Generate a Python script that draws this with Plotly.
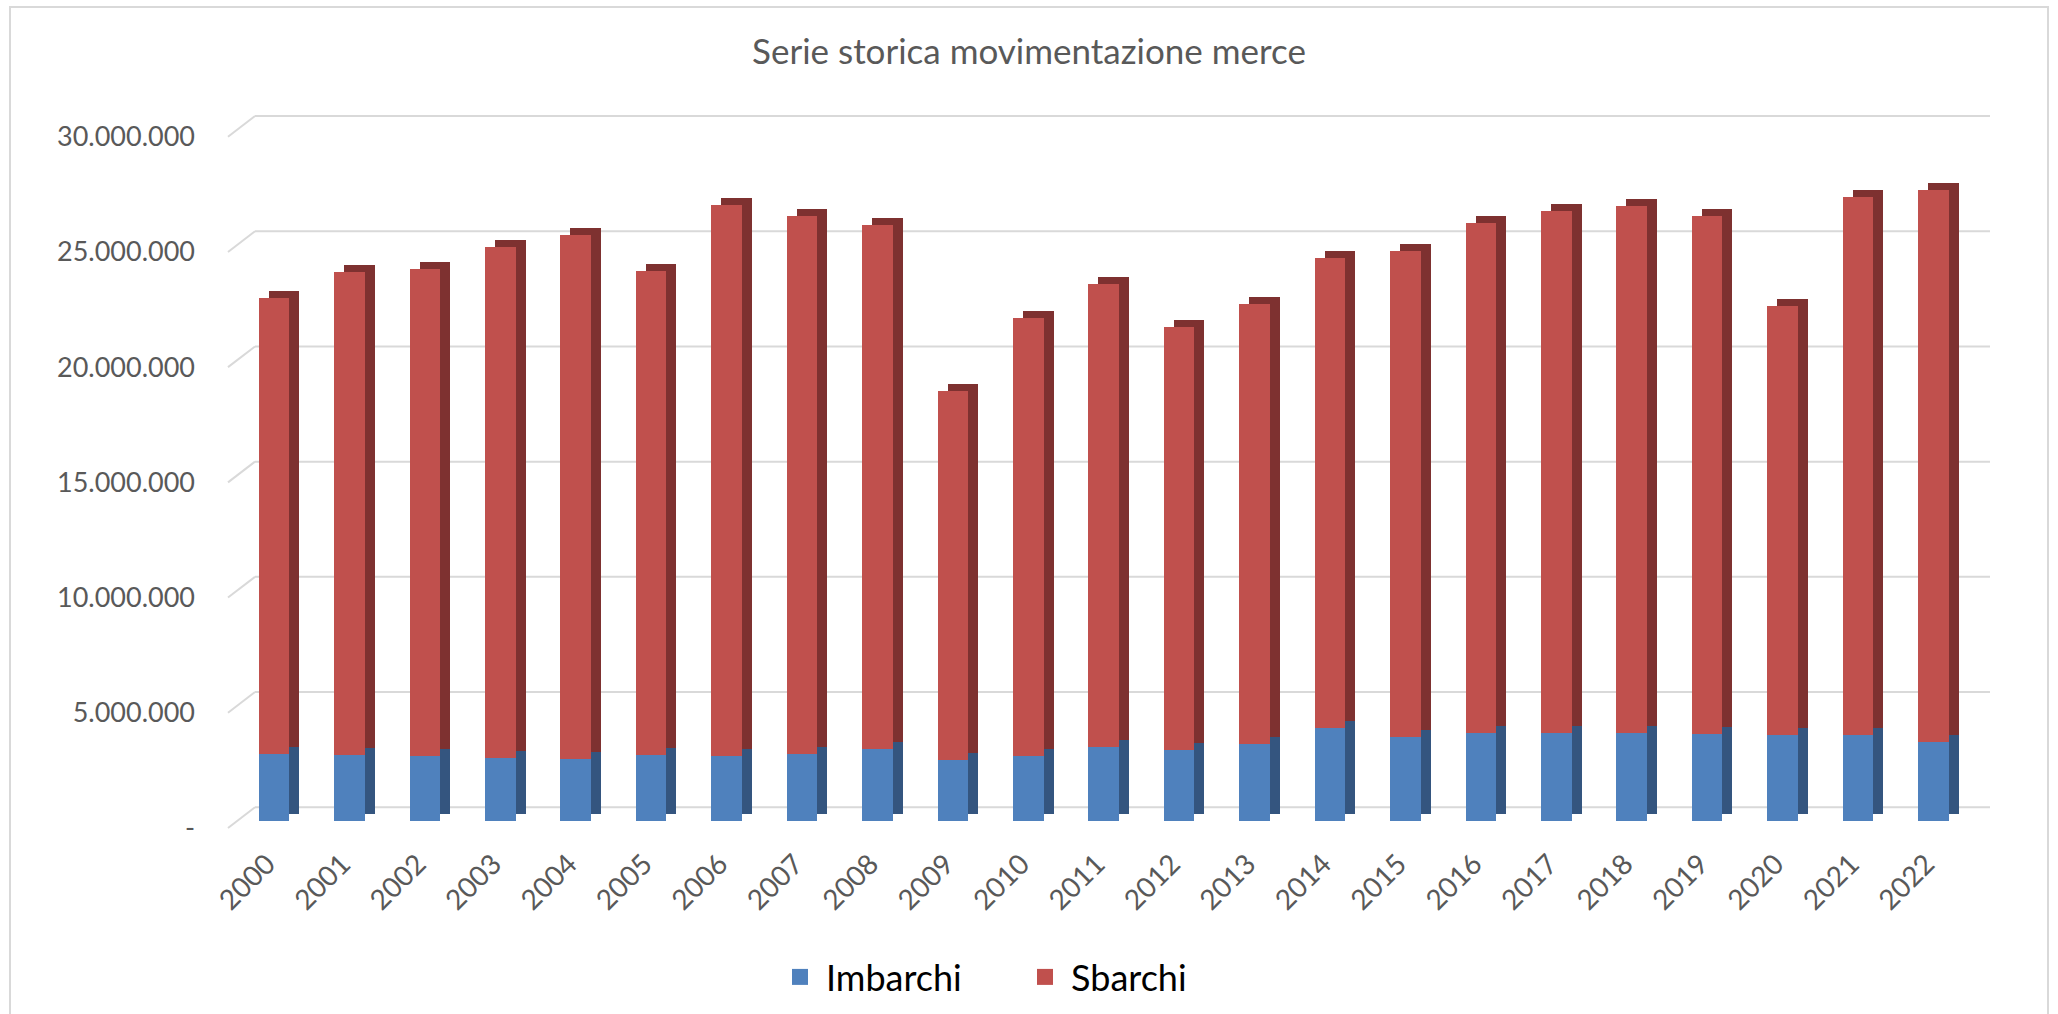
import plotly.graph_objects as go

# ---------------- data ----------------
anni = ["2000", "2001", "2002", "2003", "2004", "2005", "2006", "2007", "2008", "2009", "2010",
        "2011", "2012", "2013", "2014", "2015", "2016", "2017", "2018", "2019", "2020", "2021", "2022"]
imbarchi = [2900000, 2860000, 2800000, 2740000, 2710000, 2850000, 2830000, 2900000, 3120000, 2660000,
            2830000, 3190000, 3080000, 3350000, 4020000, 3640000, 3820000, 3820000, 3820000, 3790000,
            3750000, 3750000, 3450000]
sbarchi = [19780000, 20970000, 21170000, 22170000, 22740000, 21020000, 23910000, 23360000, 22750000,
           15980000, 19020000, 20110000, 18340000, 19100000, 20400000, 21080000, 22120000, 22670000,
           22860000, 22450000, 18610000, 23340000, 23940000]
y_tickvals = [0, 5000000, 10000000, 15000000, 20000000, 25000000, 30000000]
y_ticktext = ["-", "5.000.000", "10.000.000", "15.000.000", "20.000.000", "25.000.000", "30.000.000"]

# ---------------- layout constants (pixels) ----------------
W, H = 2058, 1014
L, R, T, B = 222, 1990, 105, 835
CAT_PX = 75.43          # px per category
CAT0_PX = 274           # centre of first category
ZERO_PX = 821           # y pixel of value 0 on bar front face
PPU = 691.3 / 30e6      # px per unit
DEPTH_X, DEPTH_Y = 10, 7
BACK_DY = 13.7          # back plane raised by this many px
GRID_X0 = 255           # back gridline start px
DIAG_X0 = 228
DIAG_DOWN = 7

x_lo = -(CAT0_PX - L) / CAT_PX
x_hi = (R - CAT0_PX) / CAT_PX
y_lo = -(B - ZERO_PX) / PPU
y_hi = (ZERO_PX - T) / PPU
bar_w = 30.6 / CAT_PX
dx = DEPTH_X / CAT_PX
dy = DEPTH_Y / PPU

C_BLUE, C_BLUE_D = "#4F81BD", "#34557F"
C_RED, C_RED_D = "#C0504D", "#7E3130"
FONT = "Lato"

xs = list(range(len(anni)))

fig = go.Figure()
# depth (side / top faces) as shifted darker bars
fig.add_trace(go.Bar(x=xs, y=imbarchi, base=[dy] * len(xs), width=bar_w, offset=-bar_w / 2 + dx,
                     marker=dict(color=C_BLUE_D, line=dict(width=0)), showlegend=False, hoverinfo="skip"))
fig.add_trace(go.Bar(x=xs, y=sbarchi, base=[v + dy for v in imbarchi], width=bar_w, offset=-bar_w / 2 + dx,
                     marker=dict(color=C_RED_D, line=dict(width=0)), showlegend=False, hoverinfo="skip"))
# front faces
fig.add_trace(go.Bar(x=xs, y=imbarchi, base=[0] * len(xs), width=bar_w, name="Imbarchi",
                     marker=dict(color=C_BLUE, line=dict(width=0)), showlegend=False))
fig.add_trace(go.Bar(x=xs, y=sbarchi, base=imbarchi, width=bar_w, name="Sbarchi",
                     marker=dict(color=C_RED, line=dict(width=0)), showlegend=False))
# legend entries (larger square swatches)
for nm, col in (("Imbarchi", C_BLUE), ("Sbarchi", C_RED)):
    fig.add_trace(go.Scatter(x=[None], y=[None], mode="markers", name=nm,
                             marker=dict(symbol="square", size=16, color=col, line=dict(width=0))))

shapes = []
gx_anchor = (GRID_X0 - CAT0_PX) / CAT_PX
for v in y_tickvals:
    shapes.append(dict(type="line", layer="below", xref="x", yref="y",
                       xsizemode="pixel", xanchor=gx_anchor, x0=0, x1=R - GRID_X0,
                       ysizemode="pixel", yanchor=v, y0=BACK_DY, y1=BACK_DY,
                       line=dict(color="#D9D9D9", width=2)))
    shapes.append(dict(type="line", layer="below", xref="x", yref="y",
                       xsizemode="pixel", xanchor=gx_anchor, x0=DIAG_X0 - GRID_X0, x1=0,
                       ysizemode="pixel", yanchor=v, y0=-DIAG_DOWN, y1=BACK_DY,
                       line=dict(color="#D9D9D9", width=2)))
# chart frame
pw, ph = R - L, B - T
shapes.append(dict(type="rect", xref="paper", yref="paper", layer="below",
                   x0=(10 - L) / pw, x1=(2048 - L) / pw, y0=(B - 1030) / ph, y1=(B - 7) / ph,
                   line=dict(color="#D9D9D9", width=2), fillcolor="rgba(0,0,0,0)"))

fig.update_layout(
    width=W, height=H,
    margin=dict(l=L, r=W - R, t=T, b=H - B, pad=0),
    paper_bgcolor="white", plot_bgcolor="white",
    barmode="overlay",
    bargap=0,
    title=dict(text="Serie storica movimentazione merce", x=0.5, xanchor="center",
               y=1 - 52 / H, yanchor="middle", font=dict(family=FONT, size=35, color="#595959")),
    xaxis=dict(range=[x_lo, x_hi], tickmode="array", tickvals=xs, ticktext=anni, tickangle=-45,
               showgrid=False, zeroline=False, showline=False, ticks="",
               tickfont=dict(family=FONT, size=28, color="#595959"),
               ticklabelstandoff=6, ticklabelshift=-7),
    yaxis=dict(range=[y_lo, y_hi], tickmode="array", tickvals=y_tickvals, ticktext=y_ticktext,
               showgrid=False, zeroline=False, showline=False, ticks="",
               tickfont=dict(family=FONT, size=27, color="#595959"),
               ticklabelshift=7, ticklabelstandoff=26),
    legend=dict(orientation="h", xref="container", yref="container", x=1019 / W, xanchor="center",
                y=1 - 977 / H, yanchor="middle", font=dict(family=FONT, size=36, color="#000000"),
                itemwidth=42, traceorder="normal", entrywidth=188),
    shapes=shapes,
)

fig.write_html("out.html", config={"displayModeBar": False},
               post_script="document.body.style.margin='0';document.body.style.overflow='hidden';")
